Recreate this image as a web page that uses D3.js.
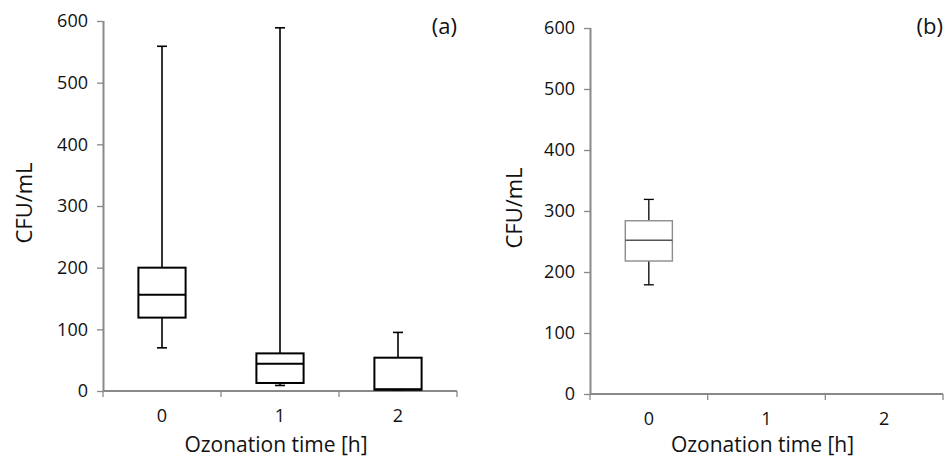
<!DOCTYPE html>
<html>
<head>
<meta charset="utf-8">
<script src="https://cdn.jsdelivr.net/npm/d3@7"></script>
<style>
  body { margin: 0; background: #fff; }
  text { font-family: "Open Sans", "Noto Sans", sans-serif; fill: #111; }
</style>
</head>
<body>
<svg id="chart" width="944" height="459"></svg>
<script>
// ozonation times (categories) shared by both panels
var times = ["0", "1", "2"];
var yTicks = [0, 100, 200, 300, 400, 500, 600];

// panel (a) box statistics per time
var aMin    = [70, 9, 2];
var aQ1     = [119, 13, 2];
var aMedian = [156, 44, 3];
var aQ3     = [200, 61, 54];
var aMax    = [559, 589, 95];

// panel (b) box statistics: only time 0 has data
var bMin    = [179, null, null];
var bQ1     = [218, null, null];
var bMedian = [252, null, null];
var bQ3     = [284, null, null];
var bMax    = [319, null, null];

var svg = d3.select("#chart");

function buildRows(mins, q1s, meds, q3s, maxs)
{
	var rows = [];
	for (var i = 0; i < times.length; i++){
		if (meds[i] == null) continue;
		rows.push({t: times[i], min: mins[i], q1: q1s[i], med: meds[i], q3: q3s[i], max: maxs[i]});
	}
	return rows;
}

function drawPanel(p)
{
	var x = d3.scaleBand().domain(times).range([p.left, p.right]);
	var y = d3.scaleLinear().domain([0, 600]).range([p.bottom, p.top]);
	var g = svg.append("g");

	// y axis
	var ya = g.append("g")
		.attr("transform", "translate(" + p.left + ",0)")
		.call(d3.axisLeft(y).tickValues(yTicks).tickSize(6).tickPadding(9));
	// x axis, ticks on band boundaries
	var xa = g.append("g")
		.attr("transform", "translate(0," + p.bottom + ")")
		.call(d3.axisBottom(x).tickSize(0).tickPadding(18));
	[ya, xa].forEach(function(a){
		a.select(".domain").attr("stroke", "#898989").attr("stroke-width", 2);
		a.selectAll("line").attr("stroke", "#898989").attr("stroke-width", 1.3);
		a.selectAll("text").style("font-size", "18px").attr("fill", "#111");
	});
	ya.select(".domain").attr("d", "M0.5," + p.bottom + "V" + p.top);
	xa.select(".domain").attr("d", "M" + p.left + ",0H" + p.right);
	var edges = [0, 1, 2, 3].map(function(k){ return p.left + k * x.step(); });
	xa.selectAll(".edge").data(edges).enter().append("line")
		.attr("x1", function(d){ return d; }).attr("x2", function(d){ return d; })
		.attr("y1", 0).attr("y2", 6)
		.attr("stroke", "#898989").attr("stroke-width", 1.3);

	// labels
	g.append("text")
		.attr("transform", "translate(" + p.yLabelX + "," + ((p.top + p.bottom) / 2 - 3) + ") rotate(-90)")
		.attr("text-anchor", "middle")
		.style("font-size", "22px")
		.text("CFU/mL");
	g.append("text")
		.attr("x", (p.left + p.right) / 2 - 4)
		.attr("y", 452)
		.attr("text-anchor", "middle")
		.style("font-size", "21px")
		.text("Ozonation time [h]");
	g.append("text")
		.attr("x", p.right)
		.attr("y", 34)
		.attr("text-anchor", "end")
		.style("font-size", "22px")
		.text(p.tag);

	// boxes
	var bw = x.bandwidth() * 0.4;
	var cap = 10;
	var boxes = g.selectAll(".box").data(p.rows).enter().append("g")
		.attr("transform", function(d){ return "translate(" + (x(d.t) + x.bandwidth() / 2) + ",0)"; });
	boxes.append("line")
		.attr("x1", 0).attr("x2", 0)
		.attr("y1", function(d){ return y(d.max); }).attr("y2", function(d){ return y(d.q3); })
		.attr("stroke", "#000").attr("stroke-width", p.whisker);
	boxes.append("line")
		.attr("x1", 0).attr("x2", 0)
		.attr("y1", function(d){ return y(d.q1); }).attr("y2", function(d){ return y(d.min); })
		.attr("stroke", "#000").attr("stroke-width", p.whisker);
	boxes.append("line")
		.attr("x1", -cap / 2).attr("x2", cap / 2)
		.attr("y1", function(d){ return y(d.max); }).attr("y2", function(d){ return y(d.max); })
		.attr("stroke", "#000").attr("stroke-width", p.whisker);
	boxes.append("line")
		.attr("x1", -cap / 2).attr("x2", cap / 2)
		.attr("y1", function(d){ return y(d.min); }).attr("y2", function(d){ return y(d.min); })
		.attr("stroke", "#000").attr("stroke-width", p.whisker);
	boxes.append("rect")
		.attr("x", -bw / 2).attr("width", bw)
		.attr("y", function(d){ return y(d.q3); })
		.attr("height", function(d){ return y(d.q1) - y(d.q3); })
		.attr("fill", "#fff").attr("stroke", p.boxColor).attr("stroke-width", p.boxWidth);
	boxes.append("line")
		.attr("x1", -bw / 2).attr("x2", bw / 2)
		.attr("y1", function(d){ return y(d.med); }).attr("y2", function(d){ return y(d.med); })
		.attr("stroke", p.medColor).attr("stroke-width", p.boxWidth);
}

drawPanel({
	left: 103, right: 457, top: 21, bottom: 391, yLabelX: 32, tag: "(a)",
	rows: buildRows(aMin, aQ1, aMedian, aQ3, aMax),
	boxColor: "#000", medColor: "#000", boxWidth: 2, whisker: 1.6
});
drawPanel({
	left: 590, right: 943, top: 28, bottom: 394, yLabelX: 522, tag: "(b)",
	rows: buildRows(bMin, bQ1, bMedian, bQ3, bMax),
	boxColor: "#8c8c8c", medColor: "#555", boxWidth: 1.4, whisker: 1.3
});
</script>
</body>
</html>
